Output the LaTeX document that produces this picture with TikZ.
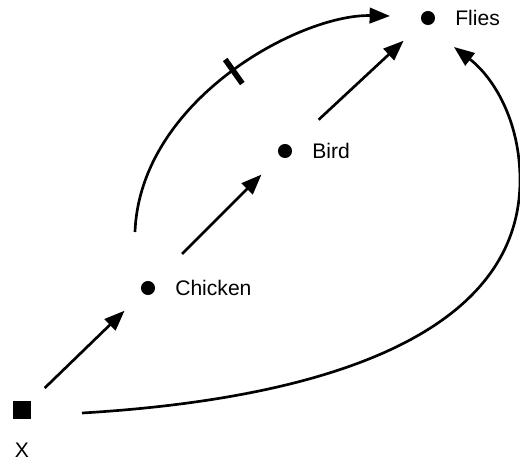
\documentclass[tikz,border=0pt]{standalone}
\usepackage{fontspec}
\setmainfont{Liberation Sans}
\usetikzlibrary{arrows.meta, positioning}

\tikzset{
  dot/.style={circle, fill, inner sep=0pt, minimum size=10pt},
  box/.style={rectangle, fill, inner sep=0pt, minimum size=12.5pt},
  lbl/.style={inner sep=0pt, font=\fontsize{15}{18}\selectfont},
  link/.style={line width=1.9pt, -{Triangle[length=14.5pt, width=11pt]}},
  tick/.style={rectangle, fill, inner sep=0pt, minimum width=4pt, minimum height=21pt}
}

\begin{document}
\begin{tikzpicture}[x=0.025cm, y=-0.025cm]

  \useasboundingbox (0,0) rectangle (520,462);

  % the four points
  \node[box] (x) at (22,410) {};
  \node[lbl, below=17pt of x] (xlabel) {X};
  \node[dot] (chicken) at (148,288) {};
  \node[lbl, right=14pt of chicken] (chickenlabel) {Chicken};
  \node[dot] (bird) at (285,151) {};
  \node[lbl, right=14pt of bird] (birdlabel) {Bird};
  \node[dot] (flies) at (428,18) {};
  \node[lbl, right=14pt of flies] (flieslabel) {Flies};

  % straight chain X -> Chicken -> Bird -> Flies
  \draw[link, shorten <=13.5pt, shorten >=18pt] (x) -- (chicken);
  \draw[link, shorten <=29pt, shorten >=18.5pt] (chicken) -- (bird);
  \draw[link, shorten <=27.5pt, shorten >=18.5pt] (bird) -- (flies);

  % cancelled arc Chicken -> Flies
  \draw[link] ([shift={(-13,-56)}]chicken.center) .. controls (140,100) and (300,14) .. ([shift={(-38,-2)}]flies.center)
    node[tick, pos=0.51, sloped] (cut) {};

  % long arc X -> Flies round the right side
  \coordinate (rim) at (520,180);
  \draw[link] ([shift={(60,3)}]x.center) .. controls (335,398) and (520,330) .. (rim)
    .. controls (520,120) and (493,77) .. ([shift={(26,29)}]flies.center);

\end{tikzpicture}
\end{document}
